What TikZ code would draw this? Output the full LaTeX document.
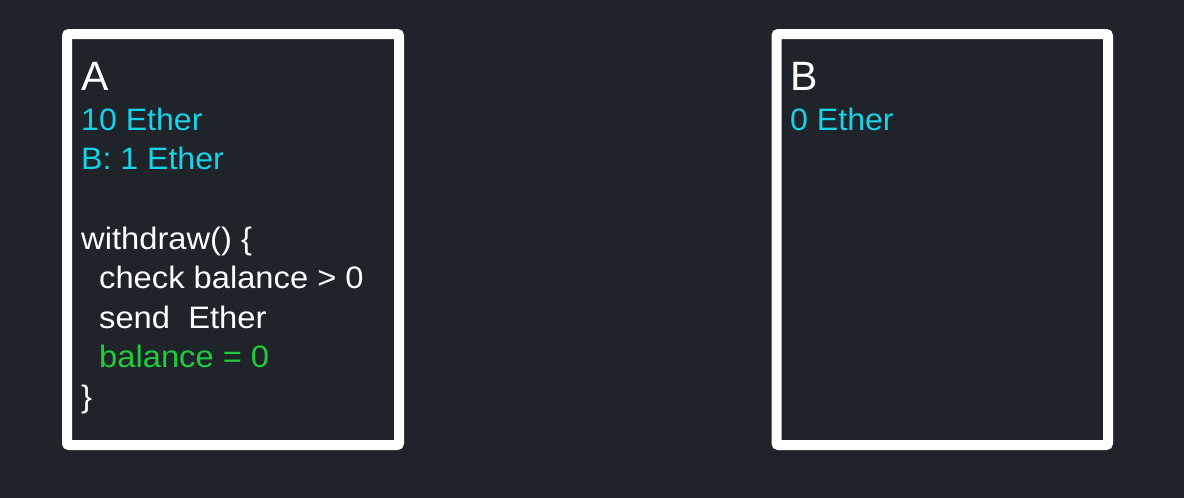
\documentclass[tikz,border=0pt]{standalone}
\usepackage{fontspec}
\setmainfont{Liberation Sans}
\newfontfamily\codefont[FakeStretch=1.055]{Liberation Sans}
\newfontfamily\infofont[FakeStretch=1.035]{Liberation Sans}
\definecolor{bg}{RGB}{31,35,42}
\definecolor{cyantxt}{RGB}{24,210,232}
\definecolor{greentxt}{RGB}{30,204,60}
\begin{document}
\begin{tikzpicture}[x=1pt,y=-1pt,
  acct/.style={draw=white,line width=10pt,rounded corners=2pt},
  title/.style={anchor=base west,inner sep=0pt,text=white,font=\fontsize{41}{41}\selectfont},
  info/.style={anchor=base west,inner sep=0pt,text=cyantxt,font=\infofont\fontsize{31}{31}\selectfont},
  code/.style={anchor=base west,inner sep=0pt,text=white,font=\codefont\fontsize{31}{31}\selectfont},
  ]
\fill[bg] (0,0) rectangle (1184,498);
\useasboundingbox (0,0) rectangle (1184,498);
\draw[acct] (67,34) rectangle (399,445);
\draw[acct] (776.5,34) rectangle (1108,445);
% A
\node[title] (aname) at (81,90) {A};
\node[info] (abal) at (81,130) {10 Ether};
\node[info] (amap) at (81,169) {B: 1 Ether};
\node[code] (l1) at (81,249) {withdraw() \{};
\node[code] (l2) at (99,288.5) {check balance > 0};
\node[code] (l3) at (99,328) {send\ \ Ether};
\node[code,text=greentxt] (l4) at (99,367.5) {balance = 0};
\node[code] (l5) at (81,407) {\}};
% B
\node[title] (bname) at (790,90) {B};
\node[info] (bbal) at (790,130) {0 Ether};
\end{tikzpicture}
\end{document}
